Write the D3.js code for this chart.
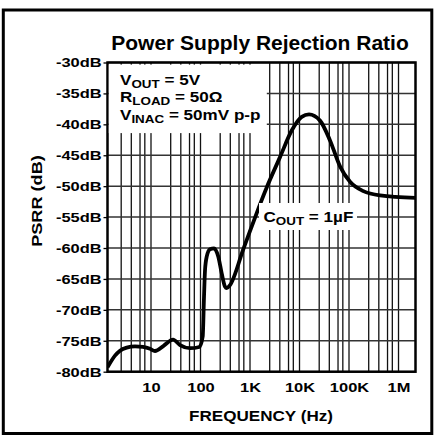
<!DOCTYPE html>
<html>
<head>
<meta charset="utf-8">
<script src="https://cdn.jsdelivr.net/npm/d3@7"></script>
<style>
body { margin: 0; background: #fff; }
text { font-family: "Liberation Sans", Arial, Helvetica, sans-serif; font-weight: bold; fill: #000; }
</style>
</head>
<body>
<div id="chart"></div>
<script>
//////////////////// data ////////////////////
var freqHz = [1.322, 1.874, 2.364, 3.229, 4.751, 6.89, 9.55, 12.04, 17.73, 27.83, 38.54, 61.36, 94.6,
              110.8, 117.7, 123.3, 133.5, 155.6, 187.4, 228.9, 268.2, 312.6, 338.2, 394.5, 732.2,
              2175, 4038, 6957, 11080, 15560, 25950, 41330, 65800, 104800, 194500, 423000, 2204000];
var psrrDb = [-79.3, -77.4, -76.6, -76.1, -75.9, -76.0, -76.3, -76.65, -75.85, -74.8, -75.7, -76.2, -76.0,
              -74.3, -67.9, -63.6, -61.4, -60.2, -60.05, -61.4, -64.1, -66.25, -66.5, -66.0, -60.2,
              -50.2, -45.3, -41.0, -38.8, -38.4, -39.4, -42.6, -46.8, -49.3, -50.8, -51.5, -51.9];

var yTickVals = [-30, -35, -40, -45, -50, -55, -60, -65, -70, -75, -80];
var xTickVals = [10, 100, 1000, 10000, 100000, 1000000];
var xTickLabels = ["10", "100", "1K", "10K", "100K", "1M"];

// the log paper only has a few lines per decade
var gridDecades = [1, 10, 100, 1000, 10000, 100000, 1000000];
var gridSteps = [1, 2.5, 4, 6, 7.5];

var curveData = freqHz.map(function (f, i) { return { f: f, v: psrrDb[i] }; });

//////////////////// set up the svg ////////////////////
var svgWidth = 435;
var svgHeight = 437;
var margin = { top: 62.5, right: 19.5, bottom: 65.3, left: 107.5 };
var chartWidth = svgWidth - margin.left - margin.right;
var chartHeight = svgHeight - margin.top - margin.bottom;

// the scanned lettering is a bit wider than the font, so stretch it
var stretch = 1.22;

var svg = d3.select("#chart").append("svg")
  .attr("width", svgWidth)
  .attr("height", svgHeight);

svg.append("rect").attr("width", svgWidth).attr("height", svgHeight).attr("fill", "#fff");

// outer frame
svg.append("rect")
  .attr("x", 3.3).attr("y", 10)
  .attr("width", 428.5).attr("height", 423.5)
  .attr("fill", "none").attr("stroke", "#000").attr("stroke-width", 3);

var chartGroup = svg.append("g")
  .attr("transform", `translate(${margin.left},${margin.top})`);

var xScale = d3.scaleLog()
  .domain([1.322, 2.204e6])
  .range([0, chartWidth]);

var yScale = d3.scaleLinear()
  .domain([-80, -30])
  .range([chartHeight, 0]);

//////////////////// grid ////////////////////
var gridFreqs = [];
gridDecades.forEach(function (dec) {
  gridSteps.forEach(function (s) {
    var f = dec * s;
    if (f > xScale.domain()[0] && f < xScale.domain()[1]) gridFreqs.push(f);
  });
});

chartGroup.selectAll("line.vgrid")
  .data(gridFreqs)
  .enter()
  .append("line")
  .attr("class", "vgrid")
  .attr("x1", d => xScale(d)).attr("x2", d => xScale(d))
  .attr("y1", 0).attr("y2", chartHeight)
  .attr("stroke", "#111").attr("stroke-width", 1.3);

chartGroup.selectAll("line.hgrid")
  .data(yTickVals)
  .enter()
  .append("line")
  .attr("class", "hgrid")
  .attr("x1", 0).attr("x2", chartWidth)
  .attr("y1", d => yScale(d)).attr("y2", d => yScale(d))
  .attr("stroke", "#333").attr("stroke-width", 1.5);

// white boxes behind the annotations
svg.append("rect")
  .attr("x", 108.8).attr("y", 64.6)
  .attr("width", 158).attr("height", 68.5)
  .attr("fill", "#fff");

svg.append("rect")
  .attr("x", 259).attr("y", 203)
  .attr("width", 98).attr("height", 27)
  .attr("fill", "#fff");

//////////////////// the curve ////////////////////
svg.append("clipPath").attr("id", "plotclip")
  .append("rect").attr("width", chartWidth).attr("height", chartHeight);

var line = d3.line()
  .x(d => xScale(d.f))
  .y(d => yScale(d.v))
  .curve(d3.curveMonotoneX);

chartGroup.append("path")
  .datum(curveData)
  .attr("clip-path", "url(#plotclip)")
  .attr("d", line)
  .attr("fill", "none")
  .attr("stroke", "#000")
  .attr("stroke-width", 3.8)
  .attr("stroke-linejoin", "round");

// plot border
chartGroup.append("rect")
  .attr("width", chartWidth).attr("height", chartHeight)
  .attr("fill", "none").attr("stroke", "#000").attr("stroke-width", 2.5);

//////////////////// axes ////////////////////
var yAxis = d3.axisLeft(yScale)
  .tickValues(yTickVals)
  .tickSize(4)
  .tickPadding(5.8 / stretch - 4)
  .tickFormat(d => d + "dB");

var yAxisG = chartGroup.append("g").call(yAxis);
yAxisG.select(".domain").remove();
yAxisG.selectAll("line").attr("stroke", "#000").attr("stroke-width", 1.3);
yAxisG.selectAll("text")
  .attr("font-family", null)
  .style("font-size", "13.5px")
  .attr("transform", `scale(${stretch},1)`);

var xAxis = d3.axisBottom(xScale)
  .tickValues(xTickVals)
  .tickSize(0)
  .tickPadding(10.8)
  .tickFormat((d, i) => xTickLabels[i]);

var xAxisG = chartGroup.append("g")
  .attr("transform", `translate(0, ${chartHeight})`)
  .call(xAxis);
xAxisG.select(".domain").remove();
xAxisG.selectAll("text")
  .style("font-size", "13.5px")
  .attr("transform", `scale(${stretch},1)`);

//////////////////// titles and labels ////////////////////
svg.append("text")
  .attr("x", 260).attr("y", 50)
  .attr("text-anchor", "middle")
  .style("font-size", "21px")
  .text("Power Supply Rejection Ratio");

svg.append("g")
  .attr("transform", `translate(261,421) scale(${stretch},1)`)
  .append("text")
  .attr("text-anchor", "middle")
  .style("font-size", "14px")
  .text("FREQUENCY (Hz)");

svg.append("g")
  .attr("transform", `translate(41.5,201) rotate(-90) scale(1.25,1)`)
  .append("text")
  .attr("text-anchor", "middle")
  .style("font-size", "14.5px")
  .text("PSRR (dB)");

// condition notes, each with a subscript
function subLabel(x, y, main, sub, rest) {
  var t = svg.append("g")
    .attr("transform", `translate(${x},${y}) scale(${stretch},1)`)
    .append("text")
    .style("font-size", "14px");
  t.append("tspan").text(main);
  t.append("tspan").attr("dy", 2.5).style("font-size", "11px").text(sub);
  t.append("tspan").attr("dy", -2.5).text(rest);
}

subLabel(120, 85, "V", "OUT", " = 5V");
subLabel(120, 102, "R", "LOAD", " = 50\u03A9");
subLabel(120, 120, "V", "INAC", " = 50mV p-p");
subLabel(263.5, 222, "C", "OUT", " = 1\u00B5F");
</script>
</body>
</html>
